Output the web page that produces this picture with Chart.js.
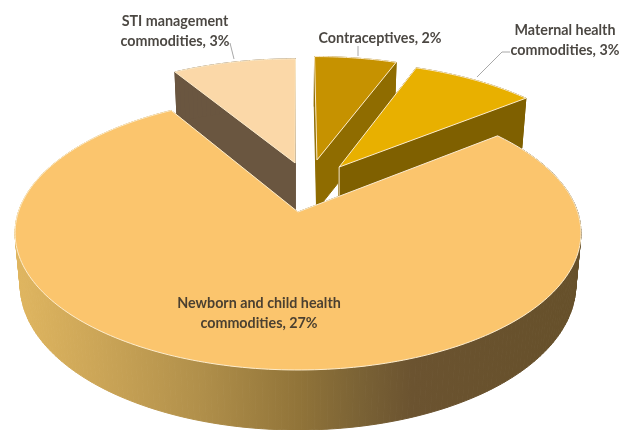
<!DOCTYPE html>
<html>
<head>
<meta charset="utf-8">
<script src="https://cdn.jsdelivr.net/npm/chart.js@4"></script>
<style>
html, body { margin: 0; padding: 0; background: #fff; }
canvas { display: block; }
</style>
</head>
<body>
<canvas id="chart" width="620" height="430"></canvas>
<script>
// commodity shares, clockwise from 12 o'clock
const categories = ["Contraceptives", "Maternal health commodities", "Newborn and child health commodities", "STI management commodities"];
const shares = [2, 3, 27, 3];
const topColors = ["#c69200", "#e8b000", "#fbc56d", "#fbd8a8"];
const sideColors = ["#8f6c00", "#7f6000", "#000", "#6a5640"];

// how far each slice is pulled out of the pie, in pie radii
const pullU = [0.072, 0.155, 0, -0.011];
const pullV = [0.413, 0.354, 0, 0.388];

// the reference is a perspective pie, so the disc is projected by hand
const CX = 298, CY = 212, RX = 279.6, RY = 133.8, PERSP = 0.153;
const FOOT_SCALE = 0.982; // the bottom disc is a bit narrower than the top one

function project(u, v) {
    const w = 1 + PERSP * v;
    return { x: CX + RX * u / w, y: CY - RY * v / w };
}

function depthAt(v) {
    return v > 0 ? 50 : 50 - 10 * v;
}

function footX(x) {
    return CX + (x - CX) * FOOT_SCALE;
}

function slicePoints(arc, i) {
    const pts = [{ u: pullU[i], v: pullV[i] }];
    const steps = Math.ceil((arc.endAngle - arc.startAngle) / 0.02);
    for (let s = 0; s <= steps; s++) {
        const a = arc.startAngle + (arc.endAngle - arc.startAngle) * s / steps;
        pts.push({ u: pullU[i] + Math.cos(a), v: pullV[i] - Math.sin(a) });
    }
    return pts;
}

function drawSlice(ctx, arc, i) {
    const pts = slicePoints(arc, i);
    const top = pts.map(p => project(p.u, p.v));

    // side wall: every edge of the outline pushed down
    let sideFill = sideColors[i];
    if (i === 2) {
        const g = ctx.createLinearGradient(15, 0, 582, 0);
        g.addColorStop(0, "#e0b660");
        g.addColorStop(0.15, "#cba557");
        g.addColorStop(0.33, "#b08f4a");
        g.addColorStop(0.5, "#917439");
        g.addColorStop(0.61, "#7a6235");
        g.addColorStop(0.7, "#6b5330");
        g.addColorStop(1, "#66502a");
        sideFill = g;
    }
    ctx.fillStyle = sideFill;
    ctx.strokeStyle = sideFill;
    ctx.lineWidth = 1;
    for (let n = 0; n < pts.length; n++) {
        const m = (n + 1) % pts.length;
        ctx.beginPath();
        ctx.moveTo(top[n].x, top[n].y);
        ctx.lineTo(top[m].x, top[m].y);
        ctx.lineTo(footX(top[m].x), top[m].y + depthAt(pts[m].v));
        ctx.lineTo(footX(top[n].x), top[n].y + depthAt(pts[n].v));
        ctx.closePath();
        ctx.fill();
        ctx.stroke();
    }

    // light seam down the inner corner of the maternal slice
    if (i === 1) {
        ctx.beginPath();
        ctx.moveTo(top[0].x, top[0].y);
        ctx.lineTo(top[0].x, top[0].y + depthAt(pts[0].v));
        ctx.strokeStyle = "#fdeccb";
        ctx.stroke();
    }

    ctx.beginPath();
    top.forEach((p, n) => n ? ctx.lineTo(p.x, p.y) : ctx.moveTo(p.x, p.y));
    ctx.closePath();
    ctx.fillStyle = topColors[i];
    ctx.fill();
    ctx.strokeStyle = "#fdeccb";
    ctx.lineWidth = 1;
    ctx.stroke();
}

function drawLeader(ctx, pts) {
    ctx.beginPath();
    pts.forEach((p, n) => n ? ctx.lineTo(p[0], p[1]) : ctx.moveTo(p[0], p[1]));
    ctx.strokeStyle = "#a8a8a8";
    ctx.lineWidth = 1;
    ctx.stroke();
}

function drawLabel(ctx, i, x, y) {
    const m = categories[i].match(/^(.*) (commodities)$/);
    const end = (m ? m[2] : categories[i]) + ", " + shares[i] + "%";
    const lines = m ? [m[1], end] : [end];
    ctx.font = "bold 14.3px Lato, sans-serif";
    ctx.fillStyle = "rgba(50, 46, 40, 0.88)";
    ctx.textAlign = "center";
    ctx.textBaseline = "middle";
    lines.forEach((t, n) => ctx.fillText(t, x, y + n * 20));
}

const pie3d = {
    id: "pie3d",
    beforeDatasetsDraw(chart) {
        const ctx = chart.ctx;
        const arcs = chart.getDatasetMeta(0).data;
        ctx.save();
        ctx.lineJoin = "round";
        // the big slice goes last: it covers the feet of the pulled out ones
        [3, 0, 1, 2].forEach(i => drawSlice(ctx, arcs[i], i));

        drawLeader(ctx, [[234, 59], [230, 43]]);
        drawLeader(ctx, [[358, 56], [358, 46]]);
        drawLeader(ctx, [[477, 77], [502, 52], [510, 52]]);

        drawLabel(ctx, 3, 175, 21);
        drawLabel(ctx, 0, 380, 38);
        drawLabel(ctx, 1, 565, 30);
        drawLabel(ctx, 2, 259, 303);
        ctx.restore();
        return false;
    }
};

new Chart(document.getElementById("chart"), {
    type: "pie",
    data: { labels: categories, datasets: [{ data: shares, backgroundColor: topColors }] },
    options: {
        responsive: false,
        animation: false,
        plugins: { legend: { display: false }, tooltip: { enabled: false } }
    },
    plugins: [pie3d]
});
</script>
</body>
</html>
